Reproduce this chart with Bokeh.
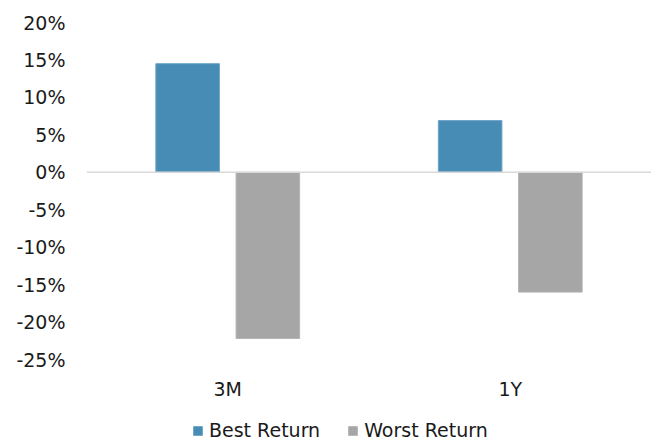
from bokeh.plotting import figure
from bokeh.models import (FactorRange, Range1d, FixedTicker, PrintfTickFormatter, Span, Legend,
                          LegendItem, ColumnDataSource, CategoricalAxis)
from bokeh.transform import dodge
from bokeh.embed import file_html
from bokeh.resources import INLINE

categories = ["3M", "1Y"]
best_return = [14.5, 6.9]
worst_return = [-22.2, -16.0]
y_ticks = [-25, -20, -15, -10, -5, 0, 5, 10, 15, 20]

BLUE = "#478cb5"
GRAY = "#a6a6a6"
FONT = "DejaVu Sans"
TXT = "#1a1a1a"

# frame spans from 20% down to the bottom of the figure; 337 px per 45 %
W, H = 651, 441
TOP = 22
PX_PER_PCT = 337.0 / 45.0
y_low = 20 - (H - TOP) / PX_PER_PCT

src = ColumnDataSource(dict(cat=categories, best=best_return, worst=worst_return))

p = figure(width=W, height=H, x_range=FactorRange(factors=categories),
           y_range=Range1d(y_low, 20), output_backend="svg", toolbar_location=None,
           x_axis_location=None,
           min_border_left=86, min_border_right=0, min_border_top=TOP, min_border_bottom=0)

r1 = p.vbar(x=dodge("cat", -0.142, range=p.x_range), top="best", bottom=0, width=0.225,
            source=src, fill_color=BLUE, line_color="#6aa3c6", line_width=1)
r2 = p.vbar(x=dodge("cat", 0.142, range=p.x_range), top="worst", bottom=0, width=0.225,
            source=src, fill_color=GRAY, line_color="#b4b4b4", line_width=1)

p.add_layout(Span(location=0, dimension="width", line_color="#d9d9d9", line_width=1.5))

p.xgrid.visible = False
p.ygrid.visible = False
p.outline_line_color = None

p.yaxis.ticker = FixedTicker(ticks=y_ticks)
p.yaxis.formatter = PrintfTickFormatter(format="%d%%")
p.yaxis.axis_line_color = None
p.yaxis.major_tick_line_color = None
p.yaxis.minor_tick_line_color = None
p.yaxis.major_tick_out = 0
p.yaxis.major_label_standoff = 21
p.yaxis.major_label_text_font = FONT
p.yaxis.major_label_text_font_size = "19px"
p.yaxis.major_label_text_color = TXT

xaxis = CategoricalAxis(fixed_location=-25, axis_line_color=None, major_tick_line_color=None,
                        major_tick_out=0, major_label_standoff=18,
                        major_label_text_font=FONT, major_label_text_font_size="19px",
                        major_label_text_color=TXT)
p.add_layout(xaxis, "below")

legend = Legend(items=[LegendItem(label="Best Return", renderers=[r1]),
                       LegendItem(label="Worst Return", renderers=[r2])],
                orientation="horizontal", location=(106, 0),
                label_text_font=FONT, label_text_font_size="19px", label_text_color=TXT,
                glyph_width=11, glyph_height=11, label_standoff=6, spacing=27,
                padding=0, margin=0, border_line_color=None, background_fill_alpha=0)
p.add_layout(legend, "center")

open("out.html", "w").write(file_html(p, INLINE))
